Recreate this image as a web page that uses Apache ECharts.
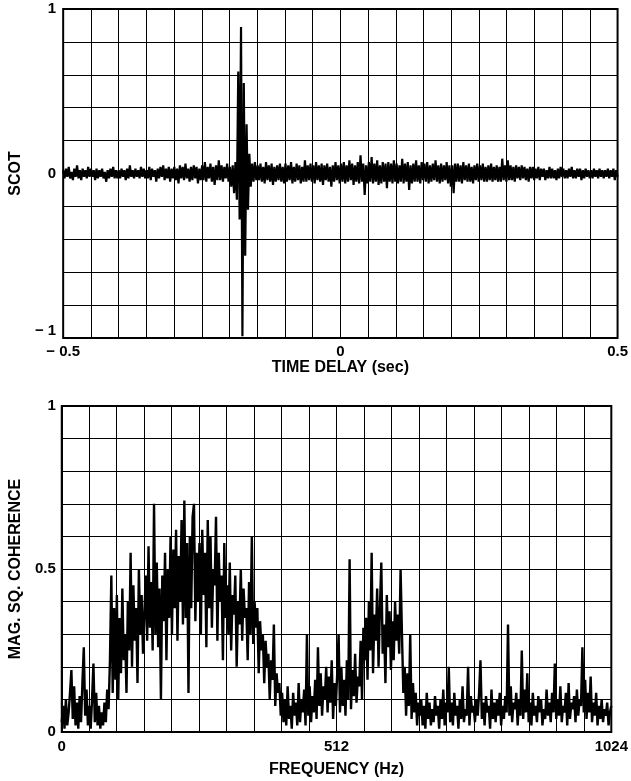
<!DOCTYPE html>
<html><head><meta charset="utf-8">
<script src="https://cdn.jsdelivr.net/npm/echarts@6/dist/echarts.min.js"></script>
<style>html,body{margin:0;padding:0;background:#fff}#c{width:631px;height:781px}</style>
</head><body><div id="c"></div>
<script>
// ---- Top panel: SCOT vs time delay ----
const scotTimeRange = [-0.5, 0.5];
const scotValues = [
 0.02,-0.03,0.03,-0.02,0.04,-0.03,0.01,-0.04,0.03,-0.02,0.05,-0.03,0.02,-0.04,0.03,-0.02,0.02,-0.03,0.04,-0.02,
 0.03,-0.02,0.02,-0.04,0.03,-0.03,0.02,-0.02,0.03,-0.03,0.01,-0.05,0.02,-0.03,0.03,-0.02,0.04,-0.03,0.02,-0.03,
 0.02,-0.03,0.03,-0.02,0.02,-0.04,0.03,-0.03,0.05,-0.02,0.02,-0.03,0.03,-0.02,0.02,-0.03,0.04,-0.02,0.03,-0.03,
 0.02,-0.03,0.04,-0.04,0.03,-0.02,0.02,-0.05,0.03,-0.03,0.04,-0.02,0.05,-0.04,0.03,-0.03,0.04,-0.05,0.03,-0.03,
 0.04,-0.04,0.03,-0.06,0.05,-0.03,0.04,-0.04,0.06,-0.03,0.03,-0.05,0.04,-0.04,0.05,-0.03,0.04,-0.06,0.03,-0.04,
 0.05,-0.04,0.07,-0.05,0.04,-0.03,0.06,-0.05,0.04,-0.07,0.05,-0.04,0.08,-0.04,0.05,-0.05,0.04,-0.03,0.06,-0.05,
 0.04,-0.08,0.05,-0.12,0.07,-0.16,0.62,-0.28,0.89,-0.99,0.55,-0.50,0.30,-0.22,0.12,-0.08,0.06,-0.05,0.07,-0.04,
 0.05,-0.04,0.06,-0.05,0.04,-0.06,0.07,-0.04,0.05,-0.05,0.06,-0.07,0.04,-0.05,0.05,-0.04,0.06,-0.05,0.04,-0.06,
 0.06,-0.05,0.05,-0.04,0.07,-0.06,0.04,-0.05,0.06,-0.04,0.05,-0.06,0.04,-0.05,0.08,-0.05,0.05,-0.04,0.06,-0.05,
 0.05,-0.06,0.07,-0.04,0.05,-0.05,0.06,-0.07,0.05,-0.04,0.06,-0.05,0.04,-0.08,0.05,-0.05,0.07,-0.04,0.05,-0.06,
 0.06,-0.05,0.07,-0.06,0.05,-0.05,0.08,-0.04,0.06,-0.07,0.05,-0.05,0.07,-0.06,0.11,-0.05,0.06,-0.13,0.05,-0.06,
 0.07,-0.05,0.10,-0.06,0.06,-0.05,0.08,-0.07,0.05,-0.06,0.07,-0.05,0.06,-0.09,0.07,-0.05,0.06,-0.06,0.08,-0.05,
 0.06,-0.06,0.05,-0.05,0.09,-0.06,0.06,-0.05,0.07,-0.10,0.05,-0.06,0.06,-0.05,0.08,-0.05,0.05,-0.06,0.07,-0.04,
 0.06,-0.05,0.07,-0.06,0.05,-0.05,0.06,-0.04,0.08,-0.05,0.05,-0.06,0.06,-0.05,0.05,-0.04,0.07,-0.06,0.05,-0.08,
 0.05,-0.12,0.06,-0.05,0.06,-0.05,0.05,-0.06,0.07,-0.04,0.05,-0.05,0.06,-0.05,0.04,-0.06,0.05,-0.04,0.06,-0.05,
 0.05,-0.04,0.06,-0.05,0.04,-0.05,0.05,-0.04,0.06,-0.05,0.04,-0.04,0.05,-0.05,0.04,-0.05,0.09,-0.04,0.05,-0.05,
 0.08,-0.04,0.05,-0.04,0.04,-0.05,0.05,-0.03,0.04,-0.04,0.05,-0.03,0.04,-0.04,0.03,-0.05,0.04,-0.03,0.04,-0.04,
 0.03,-0.03,0.04,-0.04,0.03,-0.02,0.03,-0.04,0.02,-0.03,0.04,-0.03,0.03,-0.03,0.02,-0.04,0.03,-0.03,0.04,-0.02,
 0.03,-0.03,0.02,-0.03,0.03,-0.02,0.04,-0.03,0.02,-0.03,0.03,-0.02,0.03,-0.04,0.02,-0.03,0.03,-0.02,0.02,-0.03,
 0.02,-0.03,0.03,-0.02,0.02,-0.03,0.03,-0.02,0.02,-0.03,0.02,-0.02,0.03,-0.03,0.02,-0.02,0.03,-0.04,0.02,-0.02
];
const scotXTicks = [-0.5, 0, 0.5];
const scotXLabels = ['\u2212 0.5', '0', '0.5'];
const scotYTicks = [-1, 0, 1];
const scotYLabels = ['\u2212 1', '0', '1'];

// ---- Bottom panel: magnitude squared coherence vs frequency ----
const freqRange = [0, 1024];
const coherenceValues = [
 0.03,0.08,0.01,0.10,0.02,0.06,0.12,0.19,0.04,0.14, 0.02,0.09,0.01,0.11,0.03,0.15,0.26,0.05,0.13,0.02,
 0.08,0.01,0.10,0.21,0.03,0.12,0.02,0.08,0.01,0.06, 0.02,0.09,0.03,0.13,0.07,0.22,0.48,0.12,0.38,0.16,
 0.42,0.10,0.35,0.18,0.44,0.22,0.30,0.12,0.40,0.25, 0.55,0.20,0.45,0.28,0.38,0.15,0.50,0.30,0.42,0.24,
 0.36,0.48,0.28,0.57,0.32,0.46,0.25,0.70,0.30,0.52, 0.26,0.44,0.10,0.48,0.34,0.55,0.22,0.50,0.35,0.60,
 0.30,0.56,0.38,0.62,0.28,0.54,0.40,0.65,0.33,0.71, 0.35,0.58,0.12,0.60,0.38,0.66,0.70,0.34,0.55,0.40,
 0.58,0.30,0.62,0.42,0.55,0.26,0.65,0.38,0.60,0.32, 0.50,0.45,0.66,0.28,0.55,0.40,0.48,0.22,0.58,0.35,
 0.45,0.30,0.52,0.25,0.42,0.36,0.48,0.20,0.40,0.33, 0.50,0.28,0.44,0.35,0.38,0.22,0.46,0.30,0.60,0.27,
 0.40,0.32,0.38,0.18,0.34,0.25,0.30,0.15,0.28,0.20, 0.24,0.10,0.22,0.16,0.33,0.08,0.18,0.12,0.15,0.05,
 0.12,0.03,0.10,0.02,0.14,0.04,0.08,0.01,0.12,0.05, 0.09,0.02,0.15,0.03,0.10,0.06,0.13,0.02,0.30,0.05,
 0.14,0.03,0.11,0.06,0.16,0.04,0.26,0.08,0.18,0.05, 0.14,0.10,0.20,0.06,0.17,0.09,0.22,0.04,0.15,0.08,
 0.18,0.30,0.06,0.20,0.08,0.16,0.05,0.22,0.10,0.53, 0.07,0.19,0.11,0.24,0.09,0.17,0.14,0.28,0.10,0.32,
 0.22,0.35,0.16,0.40,0.25,0.55,0.18,0.36,0.28,0.44, 0.20,0.38,0.52,0.24,0.33,0.15,0.42,0.26,0.37,0.19,
 0.34,0.22,0.40,0.28,0.36,0.24,0.50,0.30,0.12,0.20, 0.05,0.18,0.08,0.30,0.04,0.15,0.06,0.12,0.02,0.09,
 0.05,0.10,0.02,0.08,0.01,0.12,0.04,0.09,0.02,0.07, 0.03,0.11,0.05,0.08,0.01,0.10,0.04,0.13,0.02,0.09,
 0.06,0.20,0.03,0.09,0.02,0.12,0.05,0.08,0.01,0.10, 0.04,0.14,0.03,0.07,0.05,0.20,0.02,0.11,0.06,0.08,
 0.03,0.10,0.05,0.12,0.22,0.04,0.09,0.02,0.11,0.06, 0.08,0.01,0.13,0.04,0.09,0.03,0.10,0.05,0.12,0.02,
 0.08,0.04,0.11,0.06,0.33,0.05,0.14,0.03,0.09,0.07, 0.12,0.02,0.10,0.05,0.25,0.04,0.13,0.06,0.18,0.03,
 0.09,0.02,0.12,0.05,0.08,0.03,0.11,0.06,0.10,0.02, 0.07,0.04,0.13,0.05,0.09,0.03,0.12,0.06,0.21,0.04,
 0.10,0.05,0.14,0.03,0.08,0.06,0.12,0.02,0.15,0.04, 0.09,0.07,0.11,0.03,0.13,0.05,0.10,0.08,0.26,0.06,
 0.16,0.04,0.12,0.06,0.17,0.03,0.09,0.05,0.12,0.02, 0.08,0.04,0.10,0.03,0.07,0.05,0.09,0.02,0.06,0.08
];
const freqXTicks = [0, 512, 1024];
const freqXLabels = ['0', '512', '1024'];
const cohYTicks = [0, 0.5, 1];
const cohYLabels = ['0', '0.5', '1'];

// sample positions along each axis (uniform sampling grid)
function samples(range, values) {
  const n = values.length, step = (range[1] - range[0]) / (n - 1);
  return values.map((v, i) => [range[0] + i * step, v]);
}
function fmt(ticks, labels) {
  return function (v) {
    for (let i = 0; i < ticks.length; i++) if (Math.abs(v - ticks[i]) < 1e-6) return labels[i];
    return '';
  };
}

const FONT = "'Liberation Sans', Arial, Helvetica, sans-serif";
const lab = { color: '#000', fontFamily: FONT, fontWeight: 'bold', fontSize: 15 };
const nameStyle = { color: '#000', fontFamily: FONT, fontWeight: 'bold', fontSize: 16 };
const split = { show: true, lineStyle: { color: '#000', width: 1 } };

const chart = echarts.init(document.getElementById('c'), null, { renderer: 'canvas' });
chart.setOption({
  animation: false,
  backgroundColor: '#fff',
  grid: [
    { left: 61, right: 11, top: 9, height: 329, show: true, borderColor: '#000', borderWidth: 2, backgroundColor: 'transparent' },
    { left: 60, right: 11, top: 406, height: 326, show: true, borderColor: '#000', borderWidth: 2, backgroundColor: 'transparent' }
  ],
  xAxis: [
    { type: 'value', gridIndex: 0, min: -0.5, max: 0.5, interval: 0.05,
      axisLine: { show: false }, axisTick: { show: false }, splitLine: split,
      axisLabel: Object.assign({ formatter: fmt(scotXTicks, scotXLabels), margin: 6, showMinLabel: true, showMaxLabel: true }, lab),
      name: 'TIME DELAY (sec)', nameLocation: 'middle', nameGap: 20, nameTextStyle: nameStyle },
    { type: 'value', gridIndex: 1, min: 0, max: 1024, interval: 51.2,
      axisLine: { show: false }, axisTick: { show: false }, splitLine: split,
      axisLabel: Object.assign({ formatter: fmt(freqXTicks, freqXLabels), margin: 7, showMinLabel: true, showMaxLabel: true }, lab),
      name: 'FREQUENCY (Hz)', nameLocation: 'middle', nameGap: 30, nameTextStyle: nameStyle }
  ],
  yAxis: [
    { type: 'value', gridIndex: 0, min: -1, max: 1, interval: 0.2,
      axisLine: { show: false }, axisTick: { show: false }, splitLine: split,
      axisLabel: Object.assign({ formatter: fmt(scotYTicks, scotYLabels), margin: 7, verticalAlignMinLabel: 'bottom' }, lab),
      name: 'SCOT', nameLocation: 'middle', nameGap: 32, nameTextStyle: nameStyle },
    { type: 'value', gridIndex: 1, min: 0, max: 1, interval: 0.1,
      axisLine: { show: false }, axisTick: { show: false }, splitLine: split,
      axisLabel: Object.assign({ formatter: fmt(cohYTicks, cohYLabels), margin: 6 }, lab),
      name: 'MAG. SQ. COHERENCE', nameLocation: 'middle', nameGap: 33, nameTextStyle: nameStyle }
  ],
  series: [
    { type: 'line', xAxisIndex: 0, yAxisIndex: 0, data: samples(scotTimeRange, scotValues),
      showSymbol: false, symbol: 'none', sampling: null, lineStyle: { color: '#000', width: 2.2 }, z: 5 },
    { type: 'line', xAxisIndex: 1, yAxisIndex: 1, data: samples(freqRange, coherenceValues),
      showSymbol: false, symbol: 'none', sampling: null, lineStyle: { color: '#000', width: 2.4 }, z: 5 }
  ]
});
</script>
</body></html>
